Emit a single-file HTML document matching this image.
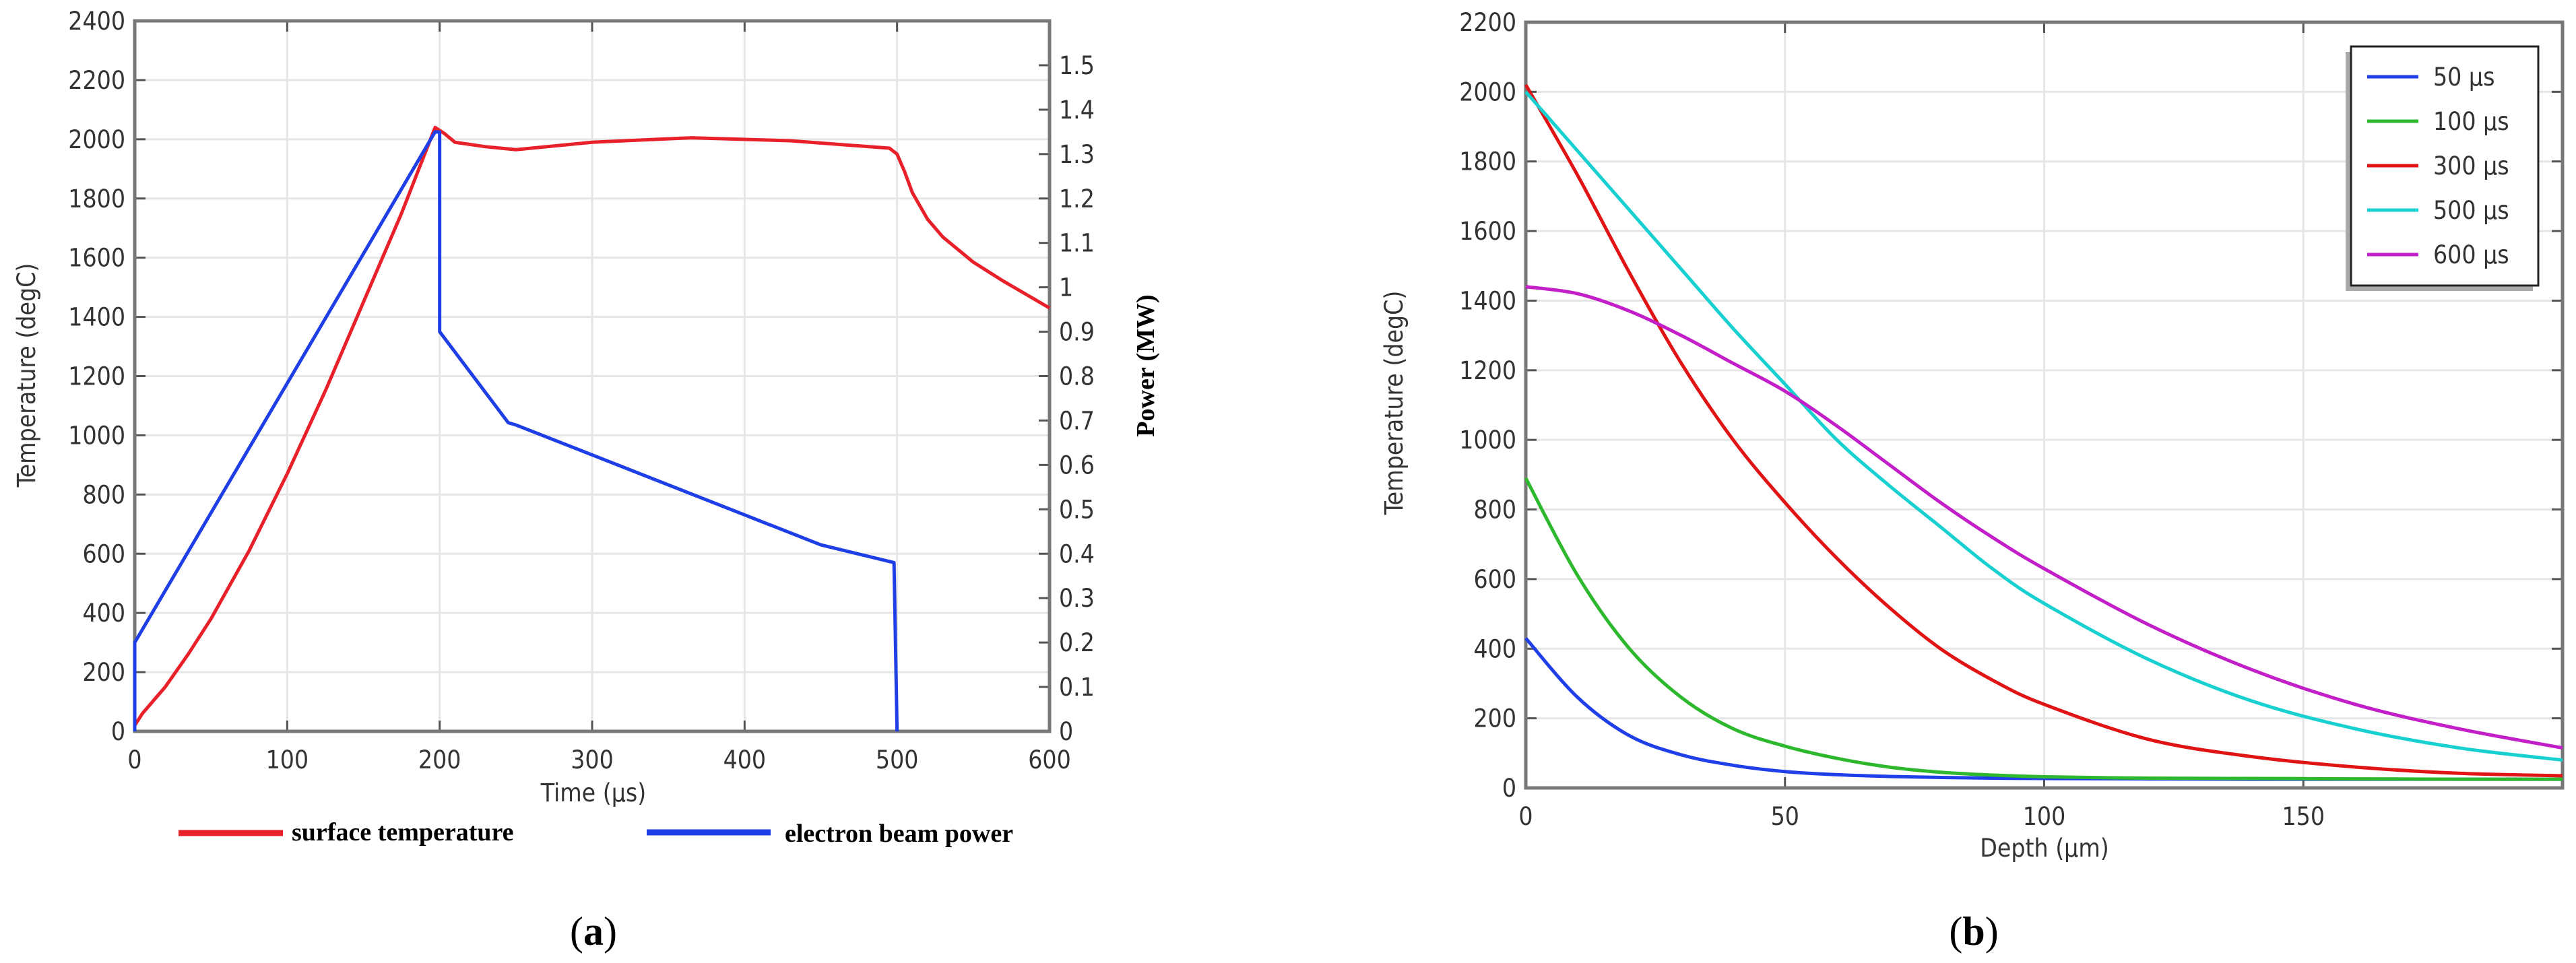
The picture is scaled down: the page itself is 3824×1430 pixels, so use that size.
<!DOCTYPE html>
<html><head><meta charset="utf-8"><style>
html,body{margin:0;padding:0;background:#fff;}
svg{display:block;}
.tk{font-family:"DejaVu Sans Condensed","DejaVu Sans",sans-serif;font-size:37px;fill:#333;}
.tt{font-family:"Liberation Serif",serif;font-weight:bold;font-size:38px;fill:#000;}
.cap{font-family:"Liberation Serif",serif;font-size:60px;fill:#000;}
</style></head><body>
<svg id="fig" width="3824" height="1430" viewBox="0 0 3824 1430" xmlns="http://www.w3.org/2000/svg">
<g id="ga"></g>
<g id="gb"></g>
</svg>
<script>
// ---------- Chart (a) data ----------
const aTempTime = [0,5,20,35,50,75,100,125,150,175,197,203,210,230,250,300,365,430,495,500,505,510,520,530,550,570,590,600];
const aTempVal  = [20,60,150,260,380,610,870,1150,1450,1750,2040,2020,1990,1975,1965,1990,2005,1995,1970,1950,1890,1820,1730,1670,1585,1520,1460,1430];
const aPowTime  = [0,0,197,200,200,245,250,450,498,500];
const aPowVal   = [0,0.2,1.35,1.35,0.9,0.695,0.69,0.42,0.38,0];
const aXTicks = [0,100,200,300,400,500,600];
const aYTicks = [0,200,400,600,800,1000,1200,1400,1600,1800,2000,2200,2400];
const aPTicks = [0,0.1,0.2,0.3,0.4,0.5,0.6,0.7,0.8,0.9,1,1.1,1.2,1.3,1.4,1.5];
// ---------- Chart (b) data ----------
const bDepth = [0,10,20,30,40,50,60,70,80,90,100,120,140,160,180,200];
const b50  = [430,260,150,95,65,47,38,33,30,28,27,26,25,25,25,25];
const b100 = [890,610,400,260,170,120,85,60,45,37,32,28,27,26,25,25];
const b300 = [2020,1760,1480,1220,1000,820,660,520,400,310,240,140,90,60,42,35];
const b500 = [2000,1830,1660,1490,1320,1160,1000,870,750,630,530,370,250,170,115,80];
const b600 = [1440,1420,1370,1300,1220,1140,1040,930,820,720,630,470,340,240,170,115];
const bLabels = ["50 µs","100 µs","300 µs","500 µs","600 µs"];
const bColors = ["#1f3fe8","#2db82d","#e01414","#19d0d0","#c21fc8"];
const bXTicks = [0,50,100,150];
const bYTicks = [0,200,400,600,800,1000,1200,1400,1600,1800,2000,2200];

const NS="http://www.w3.org/2000/svg";
function mk(parent,tag,attrs,text){const e=document.createElementNS(NS,tag);for(const k in attrs)e.setAttribute(k,attrs[k]);if(text!==undefined)e.textContent=text;parent.appendChild(e);return e;}
function smooth(pts){let d='M'+pts[0][0]+','+pts[0][1];
 for(let i=0;i<pts.length-1;i++){const p0=pts[i-1]||pts[i],p1=pts[i],p2=pts[i+1],p3=pts[i+2]||p2;
  const c1=[p1[0]+(p2[0]-p0[0])/6,p1[1]+(p2[1]-p0[1])/6],c2=[p2[0]-(p3[0]-p1[0])/6,p2[1]-(p3[1]-p1[1])/6];
  d+=`C${c1[0]},${c1[1]} ${c2[0]},${c2[1]} ${p2[0]},${p2[1]}`;}
 return d;}

// ----- chart a -----
(function(){
const g=document.getElementById('ga');
const L=200,R=1558,T=31,B=1086;
const sx=v=>L+(v/600)*(R-L), sy=v=>B-(v/2400)*(B-T), sp=v=>B-(v/1.6)*(B-T);
aYTicks.forEach(v=>{const y=sy(v);
 const gl=mk(g,'line',{x1:L,x2:R,y1:y,y2:y,stroke:'#e6e6e6','stroke-width':3});
 
 mk(g,'line',{x1:L,x2:L+16,y1:y,y2:y,stroke:'#555','stroke-width':3});
 const t=mk(g,'text',{x:L-14,y:y+13,'text-anchor':'end',class:'tk'},String(v));
 });
aXTicks.forEach(v=>{const x=sx(v);
 mk(g,'line',{x1:x,x2:x,y1:T,y2:B,stroke:'#e6e6e6','stroke-width':3});
 mk(g,'line',{x1:x,x2:x,y1:B,y2:B-16,stroke:'#555','stroke-width':3});
 mk(g,'line',{x1:x,x2:x,y1:T,y2:T+16,stroke:'#555','stroke-width':3});
 const t=mk(g,'text',{x:x,y:B+55,'text-anchor':'middle',class:'tk'},String(v));
 });
aPTicks.forEach(v=>{const y=sp(v);
 mk(g,'line',{x1:R-16,x2:R,y1:y,y2:y,stroke:'#555','stroke-width':3});
 const t=mk(g,'text',{x:R+14,y:y+13,class:'tk'},String(v));
 });
mk(g,'path',{d:`M${L},${T}H${R}V${B}H${L}Z`,fill:'none',stroke:'#777','stroke-width':5});
const rp=mk(g,'polyline',{points:aTempTime.map((t,i)=>sx(t)+','+sy(aTempVal[i])).join(' '),fill:'none',stroke:'#e8202a','stroke-width':5,'stroke-linejoin':'round'});

const bp=mk(g,'polyline',{points:aPowTime.map((t,i)=>sx(t)+','+sp(aPowVal[i])).join(' '),fill:'none',stroke:'#1e3ee6','stroke-width':5,'stroke-linejoin':'round'});

const yt=mk(g,'text',{x:0,y:0,transform:'translate(52,557) rotate(-90)','text-anchor':'middle',class:'tk'},'Temperature (degC)');

const pt=mk(g,'text',{x:0,y:0,transform:'translate(1713,543) rotate(-90)','text-anchor':'middle',class:'tt'},'Power (MW)');

const xt=mk(g,'text',{x:881,y:1190,'text-anchor':'middle',class:'tk'},'Time (µs)');

const l1=mk(g,'g',{});
mk(l1,'line',{x1:265,x2:420,y1:1237,y2:1237,stroke:'#e8202a','stroke-width':9});
mk(l1,'text',{x:433,y:1248,class:'tt'},'surface temperature');
const l2=mk(g,'g',{});
mk(l2,'line',{x1:960,x2:1144,y1:1236,y2:1236,stroke:'#1e3ee6','stroke-width':9});
mk(l2,'text',{x:1165,y:1250,class:'tt'},'electron beam power');
const cap=mk(g,'text',{x:881,y:1403,'text-anchor':'middle',class:'cap'},'');
cap.innerHTML='(<tspan font-weight="bold">a</tspan>)';

})();

// ----- chart b -----
(function(){
const g=document.getElementById('gb');
const L=2265,R=3804,T=33,B=1170;
const sx=v=>L+(v/200)*(R-L), sy=v=>B-(v/2200)*(B-T);
bYTicks.forEach(v=>{const y=sy(v);
 mk(g,'line',{x1:L,x2:R,y1:y,y2:y,stroke:'#e6e6e6','stroke-width':3});
 mk(g,'line',{x1:L,x2:L+16,y1:y,y2:y,stroke:'#555','stroke-width':3});
 mk(g,'line',{x1:R-16,x2:R,y1:y,y2:y,stroke:'#555','stroke-width':3});
 const t=mk(g,'text',{x:L-14,y:y+13,'text-anchor':'end',class:'tk'},String(v));
 });
bXTicks.forEach(v=>{const x=sx(v);
 mk(g,'line',{x1:x,x2:x,y1:T,y2:B,stroke:'#e6e6e6','stroke-width':3});
 mk(g,'line',{x1:x,x2:x,y1:B,y2:B-16,stroke:'#555','stroke-width':3});
 mk(g,'line',{x1:x,x2:x,y1:T,y2:T+16,stroke:'#555','stroke-width':3});
 const t=mk(g,'text',{x:x,y:B+55,'text-anchor':'middle',class:'tk'},String(v));
 });
mk(g,'path',{d:`M${L},${T}H${R}V${B}H${L}Z`,fill:'none',stroke:'#777','stroke-width':5});
[b50,b100,b300,b500,b600].forEach((s,k)=>{
 const p=mk(g,'path',{d:smooth(bDepth.map((d,i)=>[sx(d),sy(s[i])])),fill:'none',stroke:bColors[k],'stroke-width':5,'stroke-linejoin':'round'});
 });
const lg=mk(g,'g',{});
mk(lg,'rect',{x:3482,y:77,width:278,height:355,fill:'#aaa'});
mk(lg,'rect',{x:3490,y:69,width:278,height:355,fill:'#fff',stroke:'#222','stroke-width':3});
bLabels.forEach((lab,k)=>{const y=114+k*66;
 const e=mk(lg,'g',{});
 mk(e,'line',{x1:3514,x2:3590,y1:y,y2:y,stroke:bColors[k],'stroke-width':5});
 mk(e,'text',{x:3612,y:y+13,class:'tk'},lab);});
const yt=mk(g,'text',{x:0,y:0,transform:'translate(2082,598) rotate(-90)','text-anchor':'middle',class:'tk'},'Temperature (degC)');

const xt=mk(g,'text',{x:3035,y:1272,'text-anchor':'middle',class:'tk'},'Depth (µm)');

const cap=mk(g,'text',{x:2930,y:1403,'text-anchor':'middle',class:'cap'},'');
cap.innerHTML='(<tspan font-weight="bold">b</tspan>)';

})();
</script>
</body></html>
